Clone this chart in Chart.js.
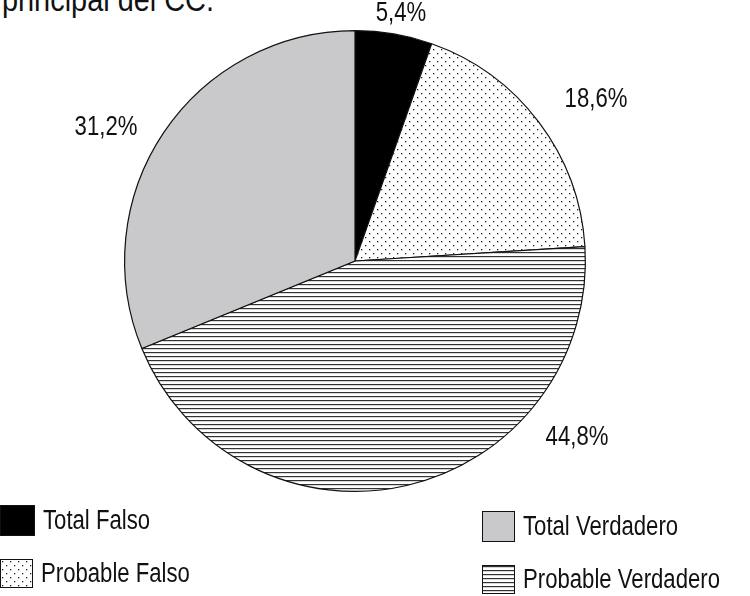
<!DOCTYPE html>
<html><head><meta charset="utf-8">
<script src="https://cdn.jsdelivr.net/npm/chart.js@4"></script>
<style>
body{margin:0;width:750px;height:596px;overflow:hidden;background:#fff;font-family:"Liberation Sans",sans-serif;position:relative}
#title{position:absolute;left:2px;top:-20px;font-size:34px;color:#111;transform:scaleX(0.85);transform-origin:left;white-space:nowrap}
canvas#c{position:absolute;left:0;top:0}
.lg{position:absolute;font-size:27px;color:#111;display:flex;align-items:center;white-space:nowrap}
.lg canvas{border:1.5px solid #111;margin-right:8px}
.lg span{display:inline-block;transform:scaleX(0.82);transform-origin:left}
</style></head><body>
<div id="title">principal del CC.</div>
<canvas id="c" width="750" height="596"></canvas>
<div class="lg" style="left:0;top:505px"><canvas id="s0" width="33" height="29"></canvas><span>Total Falso</span></div>
<div class="lg" style="left:0;top:558px"><canvas id="s1" width="31" height="27"></canvas><span>Probable Falso</span></div>
<div class="lg" style="left:482px;top:511px"><canvas id="s3" width="31" height="29"></canvas><span>Total Verdadero</span></div>
<div class="lg" style="left:482px;top:564px"><canvas id="s2" width="31" height="27"></canvas><span>Probable Verdadero</span></div>
<script>
const categories=["Total Falso","Probable Falso","Probable Verdadero","Total Verdadero"];
const values=[5.4,18.6,44.8,31.2];
const valueLabels=["5,4%","18,6%","44,8%","31,2%"];

function dotPattern(){const p=document.createElement('canvas');p.width=8;p.height=8;const x=p.getContext('2d');x.fillStyle='#fff';x.fillRect(0,0,8,8);x.fillStyle='#222';x.fillRect(1,1,1.3,1.3);x.fillRect(5,5,1.3,1.3);return x.createPattern(p,'repeat');}
function linePattern(){const p=document.createElement('canvas');p.width=4;p.height=4;const x=p.getContext('2d');x.fillStyle='#fff';x.fillRect(0,0,4,4);x.fillStyle='#333';x.fillRect(0,0,4,1.2);return x.createPattern(p,'repeat');}
const fills=['#000',dotPattern(),linePattern(),'#c9c9cb'];

['s0','s1','s2','s3'].forEach((id,i)=>{const c=document.getElementById(id).getContext('2d');c.fillStyle=fills[i];c.fillRect(0,0,40,40);});

const labelAnchors=[[401,14],[596,100],[577,438],[106,128]];
const labelPlugin={id:'lbl',afterDraw(ch){const c=ch.ctx;c.font='27px "Liberation Sans",sans-serif';c.fillStyle='#111';c.textAlign='center';c.textBaseline='middle';valueLabels.forEach((t,i)=>{c.save();c.translate(labelAnchors[i][0],labelAnchors[i][1]);c.scale(0.82,1);c.fillText(t,0,0);c.restore();});}};

new Chart(document.getElementById('c'),{type:'pie',
data:{labels:categories,datasets:[{data:values,backgroundColor:fills,borderColor:'#111',borderWidth:1.2}]},
options:{responsive:false,animation:false,layout:{padding:{left:124,right:164,top:30,bottom:104}},
plugins:{legend:{display:false},tooltip:{enabled:false}}},plugins:[labelPlugin]});
</script></body></html>
